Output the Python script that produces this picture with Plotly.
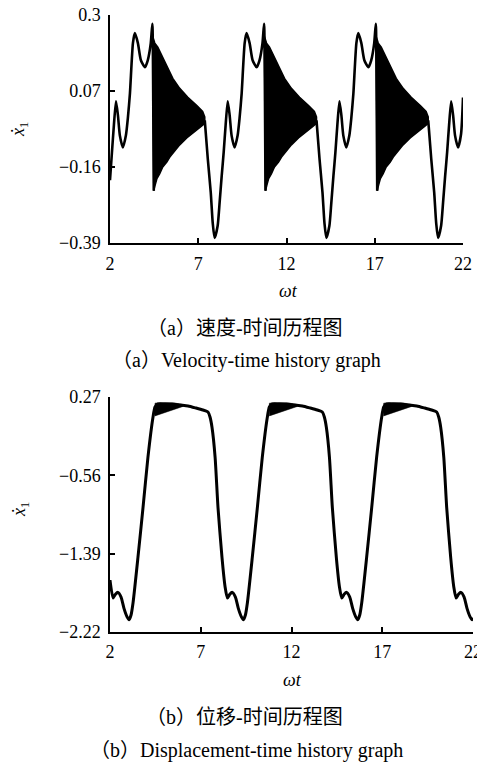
import plotly.graph_objects as go

# ---------------- data: (a) velocity-time history ----------------
vel_t = [2.00, 2.11, 2.22, 2.34, 2.45, 2.56, 2.73, 2.90, 3.01, 3.13, 3.30, 3.41, 3.58, 3.75, 3.98, 4.14, 4.31, 4.40, 4.45, 4.48,
         None,
         7.37, 7.54, 7.71, 7.82, 7.93, 8.10, 8.21, 8.33, 8.44, 8.55, 8.67, 8.78, 8.89, 9.06, 9.23, 9.34, 9.46, 9.63, 9.74, 9.91,
         10.08, 10.31, 10.47, 10.64, 10.73, 10.78, 10.81,
         None,
         13.70, 13.87, 14.04, 14.15, 14.26, 14.43, 14.54, 14.66, 14.77, 14.88, 15.00, 15.11, 15.22, 15.39, 15.56, 15.67, 15.79,
         15.96, 16.07, 16.24, 16.41, 16.64, 16.80, 16.97, 17.06, 17.11, 17.14,
         None,
         20.03, 20.20, 20.37, 20.48, 20.59, 20.76, 20.87, 20.99, 21.10, 21.21, 21.33, 21.44, 21.55, 21.72, 21.89, 22.00]
vel_v = [-0.200, -0.116, -0.034, 0.039, -0.004, -0.065, -0.101, -0.065, -0.013, 0.063, 0.215, 0.245, 0.215, 0.163, 0.142, 0.163, 0.215, 0.273, 0.040, -0.232,
         None,
         -0.019, -0.135, -0.238, -0.329, -0.375, -0.338, -0.268, -0.186, -0.116, -0.034, 0.039, -0.004, -0.065, -0.101, -0.065, -0.013, 0.063, 0.215, 0.245, 0.215,
         0.163, 0.142, 0.163, 0.215, 0.273, 0.040, -0.232,
         None,
         -0.019, -0.135, -0.238, -0.329, -0.375, -0.338, -0.268, -0.186, -0.116, -0.034, 0.039, -0.004, -0.065, -0.101, -0.065, -0.013, 0.063,
         0.215, 0.245, 0.215, 0.163, 0.142, 0.163, 0.215, 0.273, 0.040, -0.232,
         None,
         -0.019, -0.135, -0.238, -0.329, -0.375, -0.338, -0.268, -0.186, -0.116, -0.034, 0.039, -0.004, -0.065, -0.101, -0.060, 0.050]

# dense high-frequency bursts (upper / lower envelopes), one list per burst
burst_up_t = [[4.42, 4.54, 4.71, 4.99, 5.28, 5.56, 5.95, 6.41, 6.92, 7.25, 7.37],
              [10.75, 10.87, 11.04, 11.32, 11.61, 11.89, 12.28, 12.74, 13.25, 13.58, 13.70],
              [17.08, 17.20, 17.37, 17.65, 17.94, 18.22, 18.61, 19.07, 19.58, 19.91, 20.03]]
burst_up_v = [[0.235, 0.215, 0.203, 0.172, 0.139, 0.108, 0.078, 0.051, 0.026, 0.008, -0.008],
              [0.235, 0.215, 0.203, 0.172, 0.139, 0.108, 0.078, 0.051, 0.026, 0.008, -0.008],
              [0.235, 0.215, 0.203, 0.172, 0.139, 0.108, 0.078, 0.051, 0.026, 0.008, -0.008]]
burst_lo_t = [[4.48, 4.56, 4.66, 4.82, 4.99, 5.22, 5.39, 5.67, 5.95, 6.35, 6.80, 7.20, 7.37],
              [10.81, 10.89, 10.99, 11.15, 11.32, 11.55, 11.72, 12.00, 12.28, 12.68, 13.13, 13.53, 13.70],
              [17.14, 17.22, 17.32, 17.48, 17.65, 17.88, 18.05, 18.33, 18.61, 19.01, 19.46, 19.86, 20.03]]
burst_lo_v = [[-0.232, -0.215, -0.195, -0.180, -0.160, -0.145, -0.130, -0.110, -0.093, -0.072, -0.052, -0.036, -0.028],
              [-0.232, -0.215, -0.195, -0.180, -0.160, -0.145, -0.130, -0.110, -0.093, -0.072, -0.052, -0.036, -0.028],
              [-0.232, -0.215, -0.195, -0.180, -0.160, -0.145, -0.130, -0.110, -0.093, -0.072, -0.052, -0.036, -0.028]]

vel_ticks = [0.3, 0.07, -0.16, -0.39]
vel_ticktext = ["0.3", "0.07", "\u22120.16", "\u22120.39"]

# ---------------- data: (b) displacement-time history ----------------
dis_t = [2.00, 2.17, 2.30, 2.44, 2.61, 2.77, 2.94, 3.05, 3.16, 3.27, 3.54, 3.82, 4.09, 4.37, 4.48, 4.64, 5.03, 5.42, 5.86, 6.30,
         6.74, 7.12, 7.40, 7.51, 7.62, 7.79, 7.95, 8.17, 8.34,
         8.47, 8.60, 8.74, 8.91, 9.07, 9.24, 9.35, 9.46, 9.57, 9.84, 10.12, 10.39, 10.67, 10.78, 10.94, 11.33, 11.72, 12.16, 12.60,
         13.04, 13.42, 13.70, 13.81, 13.92, 14.09, 14.25, 14.47, 14.64,
         14.77, 14.90, 15.04, 15.21, 15.37, 15.54, 15.65, 15.76, 15.87, 16.14, 16.42, 16.69, 16.97, 17.08, 17.24, 17.63, 18.02, 18.46,
         18.90, 19.34, 19.72, 20.00, 20.11, 20.22, 20.39, 20.55, 20.77, 20.94,
         21.07, 21.20, 21.34, 21.51, 21.67, 21.84, 21.95, 22.00]
dis_x = [-1.67, -1.86, -1.82, -1.80, -1.85, -1.97, -2.06, -2.09, -2.04, -1.91, -1.43, -0.90, -0.37, 0.058, 0.164, 0.196, 0.196, 0.196, 0.185, 0.175,
         0.153, 0.132, 0.111, 0.058, -0.05, -0.366, -0.90, -1.43, -1.74,
         -1.86, -1.82, -1.80, -1.85, -1.97, -2.06, -2.09, -2.04, -1.91, -1.43, -0.90, -0.37, 0.058, 0.164, 0.196, 0.196, 0.196, 0.185, 0.175,
         0.153, 0.132, 0.111, 0.058, -0.05, -0.366, -0.90, -1.43, -1.74,
         -1.86, -1.82, -1.80, -1.85, -1.97, -2.06, -2.09, -2.04, -1.91, -1.43, -0.90, -0.37, 0.058, 0.164, 0.196, 0.196, 0.196, 0.185,
         0.175, 0.153, 0.132, 0.111, 0.058, -0.05, -0.366, -0.90, -1.43, -1.74,
         -1.86, -1.82, -1.80, -1.85, -1.97, -2.06, -2.09, -2.07]

band_up_t = [[4.48, 5.00, 5.60, 6.02], [10.78, 11.30, 11.90, 12.32], [17.08, 17.60, 18.20, 18.62]]
band_up_x = [[0.205, 0.210, 0.205, 0.190], [0.205, 0.210, 0.205, 0.190], [0.205, 0.210, 0.205, 0.190]]
band_lo_t = [[4.48, 5.03, 5.58, 6.02], [10.78, 11.33, 11.88, 12.32], [17.08, 17.63, 18.18, 18.62]]
band_lo_x = [[0.070, 0.110, 0.140, 0.170], [0.070, 0.110, 0.140, 0.170], [0.070, 0.110, 0.140, 0.170]]

dis_ticks = [0.27, -0.56, -1.39, -2.22]
dis_ticktext = ["0.27", "\u22120.56", "\u22121.39", "\u22122.22"]

x_ticks = [2, 7, 12, 17, 22]
x_ticktext = ["2", "7", "12", "17", "22"]

# ---------------- figure ----------------
W, H = 477, 765
SERIF = "Liberation Serif, Times New Roman, serif"
CAP_FONT = "Liberation Serif, Noto Sans CJK SC, serif"

fig = go.Figure()

def polygon(ut, uv, lt, lv):
    return list(ut) + list(reversed(lt)) + [ut[0]], list(uv) + list(reversed(lv)) + [uv[0]]

for i in range(3):
    px_, py_ = polygon(burst_up_t[i], burst_up_v[i], burst_lo_t[i], burst_lo_v[i])
    fig.add_trace(go.Scatter(x=px_, y=py_, mode="lines", fill="toself", fillcolor="black",
                             line=dict(color="black", width=1.5), xaxis="x", yaxis="y",
                             showlegend=False, hoverinfo="skip"))

fig.add_trace(go.Scatter(x=vel_t, y=vel_v, mode="lines",
                         line=dict(color="black", width=2.6, shape="spline", smoothing=0.6),
                         connectgaps=False, xaxis="x", yaxis="y", showlegend=False))

for i in range(3):
    px_, py_ = polygon(band_up_t[i], band_up_x[i], band_lo_t[i], band_lo_x[i])
    fig.add_trace(go.Scatter(x=px_, y=py_, mode="lines", fill="toself", fillcolor="black",
                             line=dict(color="black", width=0.5), xaxis="x2", yaxis="y2",
                             showlegend=False, hoverinfo="skip"))

fig.add_trace(go.Scatter(x=dis_t, y=dis_x, mode="lines",
                         line=dict(color="black", width=3, shape="spline", smoothing=0.6),
                         xaxis="x2", yaxis="y2", showlegend=False))

def px_x(p):
    return p / W

def px_y(p):
    return (H - p) / H

axis_common = dict(showline=True, linecolor="black", linewidth=1.5, ticks="inside", ticklen=5,
                   tickwidth=1.5, tickcolor="black", showgrid=False, zeroline=False, automargin=False,
                   ticklabeloverflow="allow",
                   tickfont=dict(family=SERIF, size=18, color="black"))

fig.update_layout(
    width=W, height=H,
    margin=dict(l=0, r=0, t=0, b=0),
    paper_bgcolor="white", plot_bgcolor="white",
    xaxis=dict(domain=[px_x(110), px_x(463)], range=[2, 22], anchor="y",
               tickvals=x_ticks, ticktext=x_ticktext, ticklabelstandoff=4, **axis_common),
    yaxis=dict(domain=[px_y(243), px_y(15)], range=[-0.39, 0.3], anchor="x",
               tickvals=vel_ticks, ticktext=vel_ticktext, ticklabelstandoff=4, **axis_common),
    xaxis2=dict(domain=[px_x(110), px_x(473)], range=[2, 22], anchor="y2",
                tickvals=x_ticks, ticktext=x_ticktext, ticklabelstandoff=3, **axis_common),
    yaxis2=dict(domain=[px_y(632), px_y(397)], range=[-2.22, 0.27], anchor="x2",
                tickvals=dis_ticks, ticktext=dis_ticktext, ticklabelstandoff=4, **axis_common),
)

def ann(text, x, y, size=18, family=SERIF, angle=0):
    fig.add_annotation(text=text, x=px_x(x), y=px_y(y), xref="paper", yref="paper",
                       xanchor="center", yanchor="middle", showarrow=False, textangle=angle,
                       font=dict(family=family, size=size, color="black"))

ann("<i>\u1e8b</i><sub>1</sub>", 20, 130, angle=-90)
ann("<i>\u1e8b</i><sub>1</sub>", 20, 510, angle=-90)
ann("<i>\u03c9t</i>", 288, 291)
ann("<i>\u03c9t</i>", 292, 680)
ann("\uff08a\uff09速度-时间历程图", 245, 328, size=20, family=CAP_FONT)
ann("\uff08a\uff09Velocity-time history graph", 246, 360, size=20, family=CAP_FONT)
ann("\uff08b\uff09位移-时间历程图", 245, 717, size=20, family=CAP_FONT)
ann("\uff08b\uff09Displacement-time history graph", 246, 750, size=20, family=CAP_FONT)

fig.write_html("out.html", config={"displayModeBar": False},
               post_script="document.body.style.margin='0px';document.body.style.overflow='hidden';")
